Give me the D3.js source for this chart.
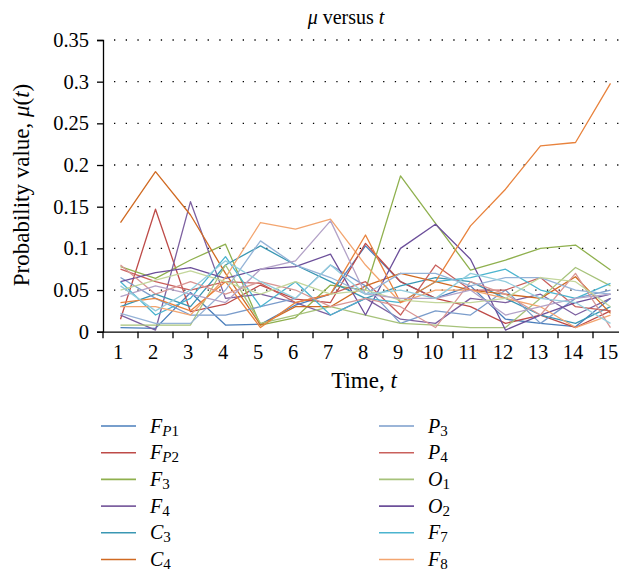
<!DOCTYPE html>
<html><head><meta charset="utf-8">
<script src="https://cdn.jsdelivr.net/npm/d3@7"></script>
<style>
body{margin:0;background:#fff}
svg{display:block}
text{font-family:"Liberation Serif","Times New Roman",serif;fill:#000}
</style>
</head><body>
<svg id="chart" width="619" height="573"></svg>
<script>
// ---------- data ----------
const times = [1,2,3,4,5,6,7,8,9,10,11,12,13,14,15];
const yTicks = [0,0.05,0.1,0.15,0.2,0.25,0.3,0.35];

const FP1 = [0.005,0.004,0.047,0.008,0.009,0.032,0.045,0.103,0.060,0.040,0.055,0.015,0.010,0.006,0.040];
const FP2 = [0.015,0.147,0.024,0.033,0.056,0.039,0.035,0.106,0.060,0.040,0.030,0.010,0.020,0.005,0.025];
const F3  = [0.078,0.064,0.086,0.105,0.008,0.017,0.056,0.050,0.187,0.130,0.074,0.086,0.100,0.104,0.074];
const F4  = [0.020,0.002,0.156,0.040,0.045,0.035,0.020,0.040,0.015,0.010,0.040,0.035,0.045,0.020,0.040];
const C3  = [0.030,0.045,0.030,0.080,0.103,0.080,0.060,0.040,0.055,0.065,0.060,0.040,0.020,0.010,0.030];
const C4  = [0.131,0.192,0.140,0.070,0.008,0.030,0.030,0.055,0.070,0.060,0.050,0.045,0.040,0.066,0.022];
const P3  = [0.065,0.040,0.020,0.020,0.030,0.040,0.080,0.055,0.010,0.025,0.020,0.050,0.010,0.040,0.050];
const P4  = [0.075,0.060,0.050,0.060,0.058,0.035,0.045,0.060,0.020,0.080,0.050,0.050,0.065,0.030,0.025];
const O1  = [0.008,0.008,0.008,0.080,0.010,0.020,0.030,0.020,0.010,0.008,0.005,0.005,0.040,0.077,0.055];
const O2  = [0.060,0.071,0.077,0.064,0.075,0.078,0.093,0.020,0.100,0.129,0.087,0.002,0.020,0.035,0.045];
const F7  = [0.060,0.020,0.040,0.090,0.030,0.060,0.020,0.040,0.035,0.060,0.065,0.075,0.050,0.040,0.058];
const F8  = [0.030,0.030,0.020,0.065,0.131,0.123,0.135,0.080,0.035,0.050,0.050,0.040,0.030,0.005,0.020];
// further series drawn in the plot but not listed in the legend
const S13 = [0.035,0.040,0.025,0.060,0.005,0.035,0.045,0.116,0.035,0.060,0.127,0.171,0.223,0.227,0.298];
const S14 = [0.080,0.045,0.060,0.045,0.060,0.050,0.030,0.040,0.030,0.005,0.060,0.045,0.020,0.070,0.005];
const S15 = [0.022,0.010,0.010,0.050,0.109,0.080,0.065,0.045,0.070,0.070,0.055,0.065,0.065,0.050,0.045];
const S16 = [0.050,0.062,0.073,0.060,0.045,0.060,0.045,0.050,0.038,0.035,0.035,0.040,0.065,0.060,0.030];
const S17 = [0.042,0.055,0.045,0.035,0.075,0.085,0.133,0.045,0.040,0.040,0.050,0.020,0.030,0.040,0.045];
const S18 = [0.055,0.025,0.050,0.085,0.060,0.040,0.080,0.045,0.050,0.040,0.070,0.060,0.040,0.035,0.010];

const seriesValues = [FP1,FP2,F3,F4,C3,C4,P3,P4,O1,O2,F7,F8,S13,S14,S15,S16,S17,S18];
const seriesColors = ["#4a7ebb","#be4b48","#8fb04e","#7d60a0","#3a97b3","#d06a22",
                      "#7a9ccb","#c9605c","#a6c27a","#6c4f9a","#4bb4cf","#f3a56f",
                      "#e8823c","#d99694","#95b3d7","#c3d69b","#b3a2c7","#93cddd"];
const legendBase   = ["F","F","F","F","C","C","P","P","O","O","F","F"];
const legendSubIt  = ["P","P","","","","","","","","","",""];
const legendSubNum = ["1","2","3","4","3","4","3","4","1","2","7","8"];

// ---------- layout ----------
const FONT = '"Liberation Serif","Times New Roman",serif';
const svg = d3.select("#chart");
const x = d3.scaleBand().domain(times).range([103, 628]);
const y = d3.scaleLinear().domain([0, 0.35]).range([331.7, 40]);
const cx = t => x(t) + x.bandwidth() / 2;

// gridlines (dotted)
svg.append("g").selectAll("line").data(yTicks.filter(d => d > 0)).join("line")
  .attr("x1", 114).attr("x2", 619)
  .attr("y1", d => y(d)).attr("y2", d => y(d))
  .attr("stroke", "#000").attr("stroke-width", 1.3)
  .attr("stroke-dasharray", "1.3,10.4");

// series lines
const line = d3.line().x((d, i) => cx(times[i])).y(d => y(d));
svg.append("g").selectAll("path").data(seriesValues).join("path")
  .attr("d", d => line(d)).attr("fill", "none")
  .attr("stroke", (d, i) => seriesColors[i]).attr("stroke-width", 1.3)
  .attr("stroke-linejoin", "round");

// y axis
const yAxis = svg.append("g").attr("transform", "translate(103,0)")
  .call(d3.axisLeft(y).tickValues(yTicks).tickSize(6).tickPadding(8)
        .tickFormat(d => String(+d.toFixed(2))));
yAxis.select(".domain").attr("stroke", "#000").attr("stroke-width", 1.3);
yAxis.selectAll(".tick line").attr("stroke", "#000").attr("stroke-width", 1.3);
yAxis.selectAll("text").style("font-size", "20.5px").style("font-family", FONT);

// x axis
const xAxis = svg.append("g").attr("transform", "translate(0,331.7)")
  .call(d3.axisBottom(x).tickSize(0).tickPadding(13).tickSizeOuter(0));
xAxis.select(".domain").attr("stroke", "#000").attr("stroke-width", 1.3);
xAxis.selectAll("text").style("font-size", "20.5px").style("font-family", FONT).attr("dx", -2.5);
xAxis.selectAll(".tick line").remove();
xAxis.append("g").selectAll("line").data(times).join("line")
  .attr("x1", d => x(d)).attr("x2", d => x(d)).attr("y1", 0).attr("y2", 6.5)
  .attr("stroke", "#000").attr("stroke-width", 1.3);

// titles
const title = svg.append("text").attr("x", 346).attr("y", 24).attr("text-anchor", "middle")
  .style("font-size", "20px").style("font-family", FONT);
title.append("tspan").style("font-style", "italic").text("μ");
title.append("tspan").text(" versus ");
title.append("tspan").style("font-style", "italic").text("t");

const xt = svg.append("text").attr("x", 364).attr("y", 388).attr("text-anchor", "middle")
  .style("font-size", "23px").style("font-family", FONT);
xt.append("tspan").text("Time, ");
xt.append("tspan").style("font-style", "italic").text("t");

const yt = svg.append("text").attr("transform", "translate(29,185) rotate(-90)").attr("text-anchor", "middle")
  .style("font-size", "23px").style("font-family", FONT);
yt.append("tspan").text("Probability value, ");
yt.append("tspan").style("font-style", "italic").text("μ");
yt.append("tspan").text("(");
yt.append("tspan").style("font-style", "italic").text("t");
yt.append("tspan").text(")");

// legend
const leg = svg.append("g");
legendBase.forEach((b, i) => {
  const col = Math.floor(i / 6), row = i % 6;
  const lx = col === 0 ? 101 : 379;
  const ly = 426 + row * 26.7;
  leg.append("line").attr("x1", lx).attr("x2", lx + 35).attr("y1", ly).attr("y2", ly)
    .attr("stroke", seriesColors[i]).attr("stroke-width", 1.6);
  const t = leg.append("text").attr("x", lx + 49).attr("y", ly + 6.5)
    .style("font-size", "20px").style("font-family", FONT);
  t.append("tspan").style("font-style", "italic").text(b);
  if (legendSubIt[i]) t.append("tspan").attr("dy", 3).style("font-size", "15px").style("font-style", "italic").text(legendSubIt[i]);
  t.append("tspan").attr("dy", legendSubIt[i] ? 0 : 3).style("font-size", "15px").text(legendSubNum[i]);
});
</script>
</body></html>
